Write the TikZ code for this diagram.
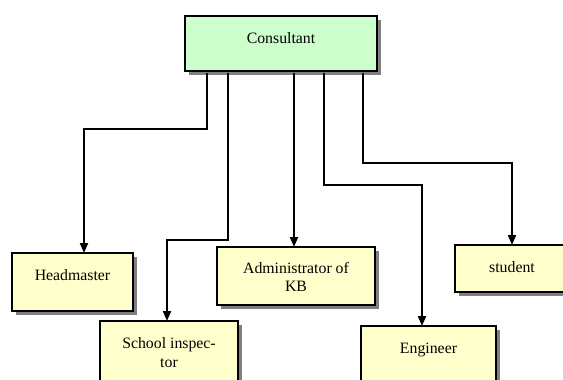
\documentclass[tikz,border=0pt]{standalone}
\usepackage{fontspec}
\setmainfont{Liberation Serif}
\newfontfamily\tnrfont{Liberation Serif}
\usetikzlibrary{arrows.meta,shadows}
\definecolor{boxgreen}{RGB}{204,255,204}
\definecolor{boxyellow}{RGB}{255,255,204}
\tikzset{
  box/.style={draw=black, line width=2pt, rectangle, inner sep=0pt, outer sep=0pt,
    anchor=north west,
    drop shadow={shadow xshift=4pt, shadow yshift=-4pt, fill=black!50, opacity=1}},
  greenbox/.style={box, fill=boxgreen},
  yellowbox/.style={box, fill=boxyellow},
  lbl/.style={font=\tnrfont\fontsize{15.8}{18.5}\selectfont, inner sep=0pt, anchor=base, align=center},
  arr/.style={draw=black, line width=2pt, -{Triangle[width=8pt,length=10pt]}}
}
\begin{document}
\begin{tikzpicture}[x=1pt,y=-1pt]
\useasboundingbox (0,0) rectangle (563,380);
% boxes
\node[greenbox, minimum width=192pt, minimum height=55pt] (cons) at (185,16) {};
\node[yellowbox, minimum width=121pt, minimum height=58pt] (head) at (12,253) {};
\node[yellowbox, minimum width=138pt, minimum height=75pt] (school) at (100,321) {};
\node[yellowbox, minimum width=158pt, minimum height=58pt] (admin) at (217,247) {};
\node[yellowbox, minimum width=135pt, minimum height=75pt] (eng) at (361,326) {};
\node[yellowbox, minimum width=114pt, minimum height=47pt] (student) at (455,245) {};
% labels
\node[lbl] (tcons) at ([yshift=-27pt]cons.north) {Consultant};
\node[lbl] (thead) at ([yshift=-27pt]head.north) {Headmaster};
\node[lbl] (tschool) at ([yshift=-46pt]school.north) {School inspec-\\tor};
\node[lbl] (tadmin) at ([yshift=-44.5pt]admin.north) {Administrator of\\KB};
\node[lbl] (teng) at ([yshift=-27pt]eng.north) {Engineer};
\node[lbl] (tstudent) at ([yshift=-27pt]student.north) {student};
% connector starts
\coordinate (s1) at ([xshift=22pt,yshift=-2pt]cons.south west);
\coordinate (s2) at ([xshift=43pt,yshift=-2pt]cons.south west);
\coordinate (s3) at ([xshift=109pt,yshift=-2pt]cons.south west);
\coordinate (s4) at ([xshift=139pt,yshift=-2pt]cons.south west);
\coordinate (s5) at ([xshift=178pt,yshift=-2pt]cons.south west);
% connectors
\draw[arr] (s1) -- ++(0,56) -| ([xshift=72pt]head.north west);
\draw[arr] (s2) -- ++(0,167) -| ([xshift=67pt]school.north west);
\draw[arr] (s3) -- (s3 |- admin.north);
\draw[arr] (s4) -- ++(0,112) -| ([xshift=61pt]eng.north west);
\draw[arr] (s5) -- ++(0,90) -| ([xshift=57pt]student.north west);
\end{tikzpicture}
\end{document}
